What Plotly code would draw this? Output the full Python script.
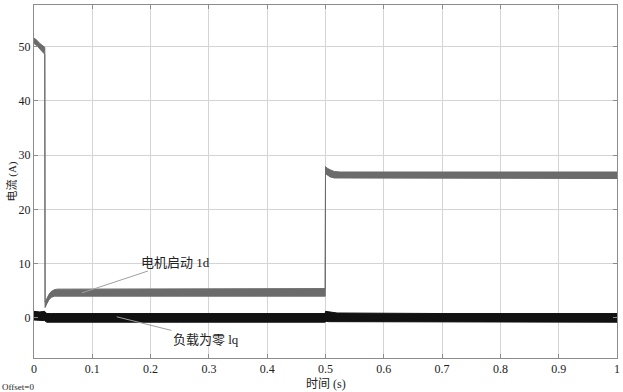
import plotly.graph_objects as go

# Id envelope (upper/lower edge of the ripple band)
id_t = [0, 0.005, 0.01, 0.015, 0.0185, 0.019, 0.022, 0.026, 0.03, 0.035, 0.04, 0.1, 0.2, 0.3, 0.4,
        0.4995, 0.5, 0.503, 0.508, 0.515, 0.525, 0.54, 0.7, 0.85, 1.0]
id_upper = [51.6, 51.2, 50.6, 50.1, 49.9, 2.9, 3.6, 4.4, 4.9, 5.2, 5.3, 5.3, 5.3, 5.3, 5.3,
            5.4, 27.9, 27.6, 27.3, 27.0, 26.9, 26.9, 26.9, 26.9, 26.9]
id_lower = [50.6, 50.2, 49.6, 49.1, 48.6, 1.9, 2.6, 3.4, 3.8, 4.0, 4.0, 4.0, 4.0, 4.0, 4.0,
            4.0, 26.6, 26.3, 26.0, 25.8, 25.7, 25.7, 25.7, 25.7, 25.7]

# Iq envelope
iq_t = [0, 0.01, 0.018, 0.022, 0.03, 0.1, 0.3, 0.4995, 0.5, 0.505, 0.52, 0.7, 1.0]
iq_upper = [1.2, 1.1, 1.2, 0.8, 0.8, 0.8, 0.8, 0.8, 1.2, 1.1, 0.9, 0.8, 0.8]
iq_lower = [-0.4, -0.4, -0.5, -0.8, -0.8, -0.8, -0.8, -0.8, -0.6, -0.7, -0.8, -0.8, -0.8]

x_ticks = [0, 0.1, 0.2, 0.3, 0.4, 0.5, 0.6, 0.7, 0.8, 0.9, 1]
x_tick_labels = ["0", "0.1", "0.2", "0.3", "0.4", "0.5", "0.6", "0.7", "0.8", "0.9", "1"]
y_ticks = [0, 10, 20, 30, 40, 50]

FONT = "Liberation Serif, Noto Sans CJK SC, serif"

fig = go.Figure()

def band(t, up, lo, color):
    return go.Scatter(x=t + t[::-1], y=up + lo[::-1], fill="toself", mode="lines",
                      line=dict(color=color, width=1), fillcolor=color,
                      hoverinfo="skip", showlegend=False)

fig.add_trace(band(id_t, id_upper, id_lower, "#6b6b6b"))
fig.add_trace(band(iq_t, iq_upper, iq_lower, "#111111"))

fig.add_annotation(x=0.082, y=4.6, ax=0.242, ay=10.3, axref="x", ayref="y",
                   text="电机启动 1d", showarrow=True, arrowhead=0, arrowwidth=1,
                   arrowcolor="#a0a0a0", font=dict(family=FONT, size=13, color="#222"))
fig.add_annotation(x=0.142, y=0.2, ax=0.295, ay=-3.9, axref="x", ayref="y",
                   text="负载为零 lq", showarrow=True, arrowhead=0, arrowwidth=1,
                   arrowcolor="#a0a0a0", font=dict(family=FONT, size=13, color="#222"))

fig.add_annotation(x=0, y=0, xref="paper", yref="paper", xanchor="left", yanchor="top",
                   xshift=-34, yshift=-22, text="Offset=0", showarrow=False,
                   font=dict(family=FONT, size=9, color="#222"))
fig.add_annotation(x=0.5, y=0, xref="paper", yref="paper", xanchor="center", yanchor="top",
                   yshift=-17, text="时间 (s)", showarrow=False,
                   font=dict(family=FONT, size=12, color="#222"))
fig.add_annotation(x=0, y=0.5, xref="paper", yref="paper", xanchor="center", yanchor="middle",
                   xshift=-23, text="电流 (A)", textangle=-90, showarrow=False,
                   font=dict(family=FONT, size=11, color="#222"))

fig.update_xaxes(range=[0, 1], tickvals=x_ticks, ticktext=x_tick_labels, automargin=False,
                 showgrid=True, gridcolor="#d4d4d4", gridwidth=1,
                 showline=True, linecolor="#8c8c8c", mirror="ticks",
                 ticks="inside", ticklen=4, tickcolor="#8c8c8c", zeroline=False,
                 tickfont=dict(family=FONT, size=12, color="#222"))
fig.update_yaxes(range=[-7.4, 57.7], tickvals=y_ticks, automargin=False,
                 showgrid=True, gridcolor="#d4d4d4", gridwidth=1,
                 showline=True, linecolor="#8c8c8c", mirror="ticks",
                 ticks="inside", ticklen=4, tickcolor="#8c8c8c", zeroline=False,
                 tickfont=dict(family=FONT, size=12, color="#222"))

fig.update_layout(width=623, height=392, margin=dict(l=34, r=6, t=5, b=34),
                  plot_bgcolor="white", paper_bgcolor="white", showlegend=False)

fig.write_html("out.html", config={"displayModeBar": False},
               post_script="document.body.style.margin='0';")
